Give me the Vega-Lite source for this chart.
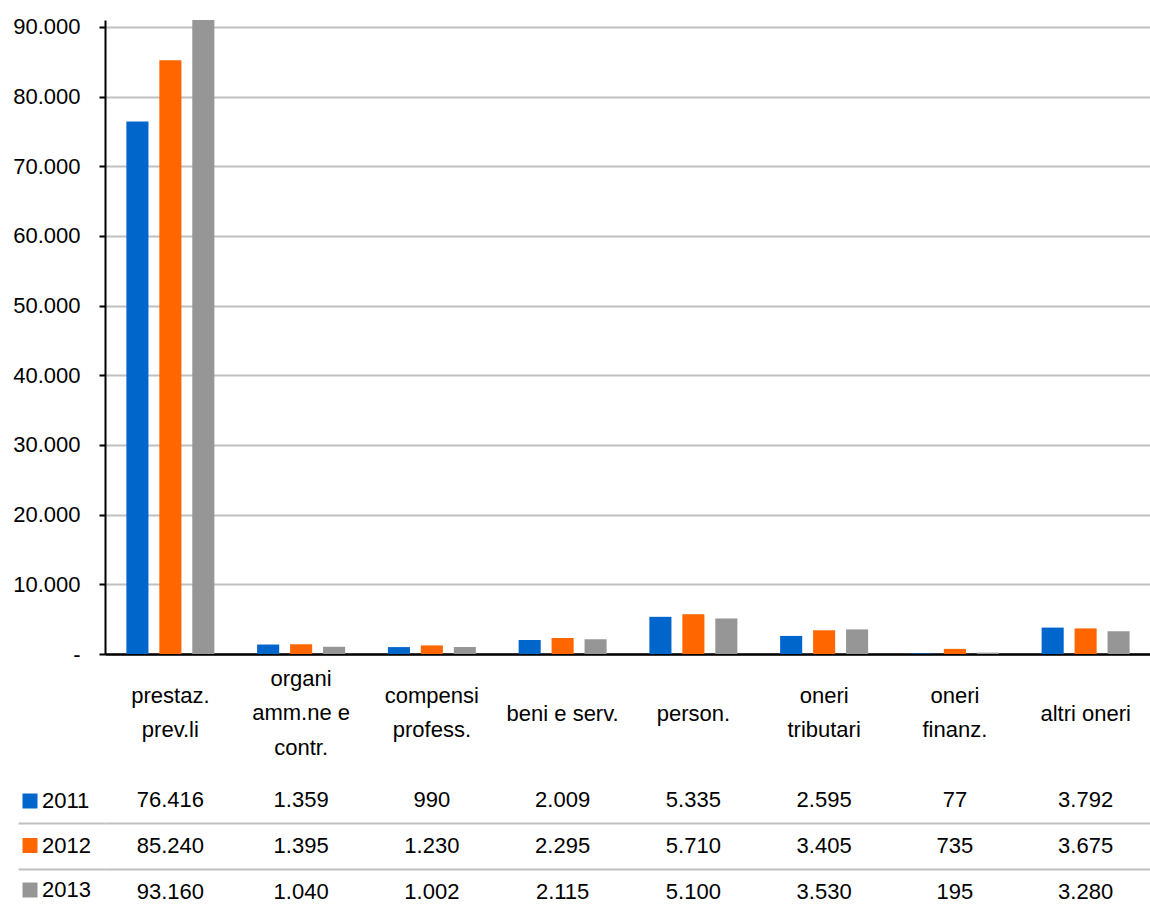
{
  "$schema": "https://vega.github.io/schema/vega-lite/v6.json",
  "padding": {"left": 12, "top": 15, "right": 0, "bottom": 0},
  "bounds": "flush",
  "spacing": 123,
  "config": {
    "view": {"stroke": null},
    "font": "Liberation Sans",
    "locale": {"number": {"decimal": ",", "thousands": ".", "grouping": [3], "currency": ["€", ""]}}
  },
  "data": {"values": [
    {"categoria": "prestaz.|prev.li", "anno": "2011", "valore": 76416},
    {"categoria": "prestaz.|prev.li", "anno": "2012", "valore": 85240},
    {"categoria": "prestaz.|prev.li", "anno": "2013", "valore": 93160},
    {"categoria": "organi|amm.ne e|contr.", "anno": "2011", "valore": 1359},
    {"categoria": "organi|amm.ne e|contr.", "anno": "2012", "valore": 1395},
    {"categoria": "organi|amm.ne e|contr.", "anno": "2013", "valore": 1040},
    {"categoria": "compensi|profess.", "anno": "2011", "valore": 990},
    {"categoria": "compensi|profess.", "anno": "2012", "valore": 1230},
    {"categoria": "compensi|profess.", "anno": "2013", "valore": 1002},
    {"categoria": "beni e serv.", "anno": "2011", "valore": 2009},
    {"categoria": "beni e serv.", "anno": "2012", "valore": 2295},
    {"categoria": "beni e serv.", "anno": "2013", "valore": 2115},
    {"categoria": "person.", "anno": "2011", "valore": 5335},
    {"categoria": "person.", "anno": "2012", "valore": 5710},
    {"categoria": "person.", "anno": "2013", "valore": 5100},
    {"categoria": "oneri|tributari", "anno": "2011", "valore": 2595},
    {"categoria": "oneri|tributari", "anno": "2012", "valore": 3405},
    {"categoria": "oneri|tributari", "anno": "2013", "valore": 3530},
    {"categoria": "oneri|finanz.", "anno": "2011", "valore": 77},
    {"categoria": "oneri|finanz.", "anno": "2012", "valore": 735},
    {"categoria": "oneri|finanz.", "anno": "2013", "valore": 195},
    {"categoria": "altri oneri", "anno": "2011", "valore": 3792},
    {"categoria": "altri oneri", "anno": "2012", "valore": 3675},
    {"categoria": "altri oneri", "anno": "2013", "valore": 3280}
  ]},
  "vconcat": [
    {
      "width": 1046,
      "height": 634,
      "mark": {"type": "bar", "clip": true},
      "encoding": {
        "x": {
          "field": "categoria", "type": "nominal", "sort": null, "title": null,
          "scale": {"paddingInner": 0.327, "paddingOuter": 0.1635},
          "axis": {
            "labelExpr": "split(datum.label, '|')",
            "labelAngle": 0, "labelFontSize": 22, "labelColor": "#000000",
            "labelLineHeight": 34.5, "labelBaseline": "middle",
            "labelPadding": {"condition": [
              {"test": "length(split(datum.value, '|')) == 3", "value": 24},
              {"test": "length(split(datum.value, '|')) == 2", "value": 41}
            ], "value": 59},
            "ticks": false, "tickSize": 0,
            "domainColor": "#000000", "domainWidth": 2.5, "grid": false
          }
        },
        "xOffset": {"field": "anno", "type": "nominal", "sort": ["2011", "2012", "2013"], "scale": {"paddingInner": 0.33, "paddingOuter": 0}},
        "y": {
          "field": "valore", "type": "quantitative", "title": null,
          "scale": {"domain": [0, 91000], "nice": false, "zero": true},
          "axis": {
            "values": [0, 10000, 20000, 30000, 40000, 50000, 60000, 70000, 80000, 90000],
            "format": ",.0f",
            "labelExpr": "datum.value === 0 ? '-' : datum.label",
            "labelFontSize": 22, "labelColor": "#000000", "labelPadding": 19,
            "tickSize": 6, "tickWidth": 2, "tickColor": "#000000",
            "domainColor": "#000000", "domainWidth": 2,
            "grid": true, "gridColor": "#C0C0C0", "gridWidth": 2
          }
        },
        "color": {
          "field": "anno", "type": "nominal",
          "scale": {"domain": ["2011", "2012", "2013"], "range": ["#0066CC", "#FF6600", "#969696"]},
          "legend": {
            "orient": "none", "legendX": -86, "legendY": 770, "title": null,
            "direction": "vertical", "symbolType": "square", "symbolSize": 225,
            "symbolStrokeWidth": 0, "labelFontSize": 22, "labelColor": "#000000",
            "labelOffset": 1, "rowPadding": 22.5, "padding": 0
          }
        }
      }
    },
    {
      "width": 1046,
      "height": 138,
      "mark": {"type": "text", "fontSize": 22, "color": "#000000", "baseline": "middle"},
      "encoding": {
        "x": {
          "field": "categoria", "type": "nominal", "sort": null, "title": null,
          "scale": {"paddingInner": 0.327, "paddingOuter": 0.1635},
          "axis": null
        },
        "y": {
          "field": "anno", "type": "nominal", "title": null,
          "sort": ["2011", "2012", "2013"],
          "scale": {"paddingInner": 0, "paddingOuter": 0},
          "axis": {
            "values": ["2012", "2013"], "labels": false, "domain": false,
            "tickBand": "extent",
            "ticks": true, "tickSize": 87, "tickColor": "#C0C0C0", "tickWidth": 2,
            "grid": true, "gridColor": "#C0C0C0", "gridWidth": 2
          }
        },
        "text": {"field": "valore", "type": "quantitative", "format": ",.0f"}
      }
    }
  ]
}
